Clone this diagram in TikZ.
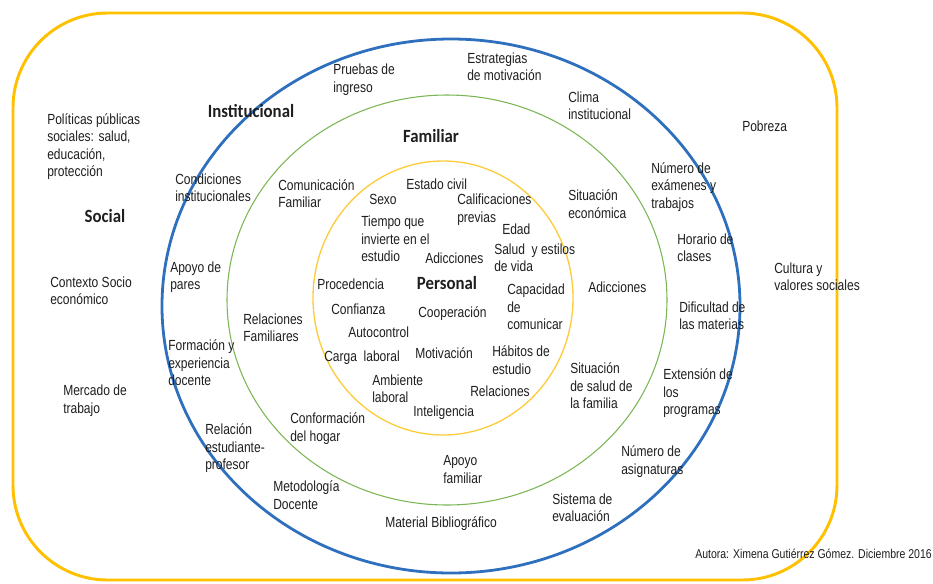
\documentclass[tikz,border=0pt]{standalone}
\usepackage{fontspec}
\usepackage{xcolor}
\usepackage{tikz}
\setmainfont{Liberation Sans}[FakeStretch=0.82]
\newfontfamily\ringfont{Carlito}[FakeStretch=0.9]
\definecolor{gold}{RGB}{255,192,0}
\definecolor{ringblue}{RGB}{46,112,190}
\definecolor{ringgreen}{RGB}{122,182,84}
\definecolor{ringyellow}{RGB}{252,204,60}
\definecolor{textgray}{RGB}{30,30,30}

\begin{document}
\begin{tikzpicture}[x=0.75pt, y=-0.75pt,
	txt/.style={anchor=west, align=left, inner sep=0pt, text=textgray,
		font=\fontsize{11}{13.1}\selectfont},
	ring/.style={inner sep=0pt, text=textgray,
		font=\ringfont\fontsize{14}{16}\selectfont\bfseries}]
			\useasboundingbox (0,0) rectangle (933,583);
			% rings
			\draw[gold, line width=2.2pt, rounded corners=71pt] (13,13) rectangle (837,580);
			\draw[ringblue, line width=2.1pt] (451,306) ellipse [x radius=289, y radius=267];
			\draw[ringgreen, line width=0.8pt] (447,300) ellipse [x radius=220, y radius=205];
			\draw[ringyellow, line width=1pt] (443,298) ellipse [x radius=130, y radius=137];
			% level names
			\node[ring] at (105,216) (social){Social};
			\node[ring] at (251,111) (institucional){Institucional};
			\node[ring] at (431,136) (familiar){Familiar};
			\node[ring] at (447,283) (personal){Personal};
			% social
			\node[txt] at (47,146.5) (politicas){Políticas públicas\\sociales: salud,\\educación,\\protección};
			\node[txt] at (50,291) (contexto){Contexto Socio\\económico};
			\node[txt] at (63,400.5) (mercado){Mercado de\\trabajo};
			\node[txt] at (742,126) (pobreza){Pobreza};
			\node[txt] at (774,277) (cultura){Cultura y\\valores sociales};
			% institucional
			\node[txt] at (333,79.5) (pruebas){Pruebas de\\ingreso};
			\node[txt] at (467,67) (estrategias){Estrategias\\de motivación};
			\node[txt] at (568,105.5) (clima){Clima\\institucional};
			\node[txt] at (651,187) (examenes){Número de\\exámenes y\\trabajos};
			\node[txt] at (677,248) (horario){Horario de\\clases};
			\node[txt] at (679,315.5) (dificultad){Dificultad de\\las materias};
			\node[txt] at (663,393.5) (extension){Extensión de\\los\\programas};
			\node[txt] at (621,461.5) (asignaturas){Número de\\asignaturas};
			\node[txt] at (552,508) (sistema){Sistema de\\evaluación};
			\node[txt] at (385,524) (material){Material Bibliográfico};
			\node[txt] at (273,495) (metodologia){Metodología\\Docente};
			\node[txt] at (205,448.5) (relacion){Relación\\estudiante-\\profesor};
			\node[txt] at (168,363) (formacion){Formación y\\experiencia\\docente};
			\node[txt] at (170,277) (apoyopares){Apoyo de\\pares};
			\node[txt] at (175,187.5) (condiciones){Condiciones\\institucionales};
			% familiar
			\node[txt] at (278,193.5) (comunicacion){Comunicación\\Familiar};
			\node[txt] at (568,204) (economica){Situación\\económica};
			\node[txt] at (588,287) (adicfam){Adicciones};
			\node[txt] at (570,386) (saludfam){Situación\\de salud de\\la familia};
			\node[txt] at (443,469.5) (apoyofam){Apoyo\\familiar};
			\node[txt] at (290,428.5) (conformacion){Conformación\\del hogar};
			\node[txt] at (243,328) (relfam){Relaciones\\Familiares};
			% personal
			\node[txt] at (406,184) (civil){Estado civil};
			\node[txt] at (369,199) (sexo){Sexo};
			\node[txt] at (457,209.5) (calificaciones){Calificaciones\\previas};
			\node[txt] at (361,239) (tiempo){Tiempo que\\invierte en el\\estudio};
			\node[txt] at (502,229) (edad){Edad};
			\node[txt] at (494,258) (salud){Salud\ \ y estilos\\de vida};
			\node[txt] at (425,258) (adicper){Adicciones};
			\node[txt] at (317,284) (procedencia){Procedencia};
			\node[txt] at (507,307) (capacidad){Capacidad\\de\\comunicar};
			\node[txt] at (331,309) (confianza){Confianza};
			\node[txt] at (418,314) (cooperacion){Cooperación};
			\node[txt] at (348,332) (autocontrol){Autocontrol};
			\node[txt] at (324,358) (carga){Carga\ \ laboral};
			\node[txt] at (415,353) (motivacion){Motivación};
			\node[txt] at (492,360) (habitos){Hábitos de\\estudio};
			\node[txt] at (372,388.5) (ambiente){Ambiente\\laboral};
			\node[txt] at (470,391) (relaciones){Relaciones};
			\node[txt] at (413,413) (inteligencia){Inteligencia};
			% credit
			\node[txt, anchor=east, font=\fontsize{9.6}{11}\selectfont] at (932,554) (autora){Autora: Ximena Gutiérrez Gómez. Diciembre 2016};
		\end{tikzpicture}
\end{document}
